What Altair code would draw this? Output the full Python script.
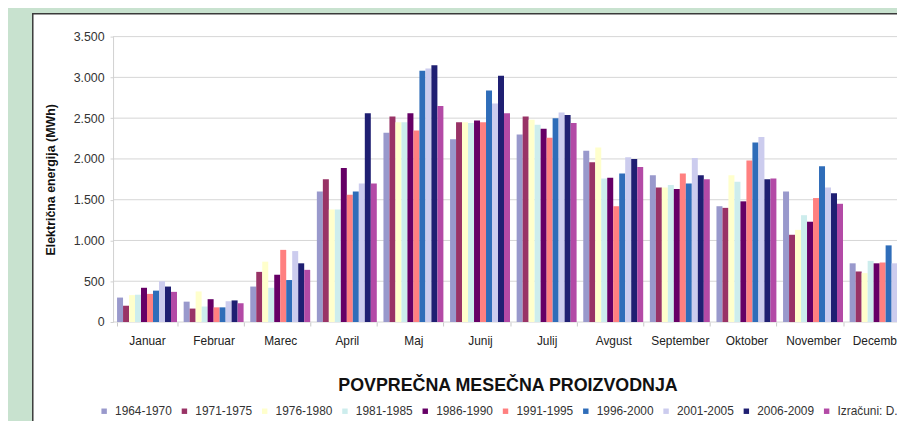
import altair as alt
import pandas as pd

months = ["Januar", "Februar", "Marec", "April", "Maj", "Junij", "Julij",
          "Avgust", "September", "Oktober", "November", "December"]
series = ["1964-1970", "1971-1975", "1976-1980", "1981-1985", "1986-1990",
          "1991-1995", "1996-2000", "2001-2005", "2006-2009", "Izračuni: D.Pavlin"]
colors = ["#9999CC", "#993366", "#FFFFCC", "#CDEDED", "#660066",
          "#FF8080", "#2F6DB9", "#CCCCEE", "#1F1F72", "#B34AA6"]

s1964 = [300, 250, 435, 1600, 2320, 2240, 2300, 2100, 1800, 1420, 1600, 720]
s1971 = [200, 165, 615, 1750, 2520, 2450, 2520, 1960, 1650, 1400, 1070, 620]
s1976 = [330, 375, 740, 1380, 2450, 2450, 2480, 2140, 1650, 1800, 1130, 600]
s1981 = [335, 190, 420, 1380, 2450, 2440, 2420, 1760, 1680, 1720, 1310, 750]
s1986 = [420, 280, 580, 1890, 2560, 2470, 2370, 1770, 1630, 1480, 1230, 720]
s1991 = [345, 180, 885, 1560, 2350, 2450, 2260, 1420, 1820, 1980, 1520, 730]
s1996 = [385, 180, 515, 1600, 3080, 2840, 2500, 1820, 1700, 2200, 1910, 940]
s2001 = [500, 255, 870, 1700, 3110, 2680, 2570, 2020, 2010, 2270, 1650, 720]
s2006 = [435, 265, 720, 2560, 3150, 3020, 2540, 2000, 1800, 1750, 1580, 1110]
sIzr = [370, 230, 640, 1700, 2650, 2560, 2440, 1900, 1750, 1760, 1450, 800]

y_ticks = [0, 500, 1000, 1500, 2000, 2500, 3000, 3500]

all_vals = [s1964, s1971, s1976, s1981, s1986, s1991, s1996, s2001, s2006, sIzr]
rows = []
for s, vals in zip(series, all_vals):
    for m, v in zip(months, vals):
        rows.append({"Mesec": m, "Obdobje": s, "MWh": v})
df = pd.DataFrame(rows)

W, H = 791, 288
STEP = 67.2
P_IN, P_OUT = 0.1, 0.06
x_range = [0, STEP * (len(months) - P_IN + 2 * P_OUT)]
FONT = "Liberation Sans"

yscale = alt.Scale(domain=[0, 3500], nice=False, zero=True)

y_axis = alt.Axis(
    values=y_ticks,
    labelExpr="replace(format(datum.value, ','), ',', '.')",
    title="Električna energija (MWh)",
    titleFont=FONT, titleFontSize=12.5, titleFontWeight="bold",
    titleColor="#111111", titleAngle=270, titleX=-63, titleY=144,
    titleAlign="center", titleBaseline="middle",
    labelFont=FONT, labelFontSize=12.5, labelColor="#333333",
    labelPadding=6, tickSize=3, tickColor="#d0d0d0",
    domain=True, domainColor="#d0d0d0", grid=False, zindex=1,
)

panel = alt.Chart(alt.Data(values=[{"p": 1}])).mark_rect(
    fill="white", stroke="#3a3a3a", strokeWidth=1.5
).encode(
    x=alt.value(-81), x2=alt.value(W + 100),
    y=alt.value(-23), y2=alt.value(H + 200),
)

grid = alt.Chart(pd.DataFrame({"MWh": y_ticks})).mark_rule(
    color="#d6d6d6", strokeWidth=1
).encode(
    y=alt.Y("MWh:Q", scale=yscale, axis=y_axis)
)

bars = alt.Chart(df).mark_bar().encode(
    x=alt.X(
        "Mesec:N", sort=months,
        scale=alt.Scale(range=x_range, paddingInner=P_IN, paddingOuter=P_OUT),
        axis=alt.Axis(
            title="POVPREČNA MESEČNA PROIZVODNJA",
            titleFont=FONT, titleFontSize=18, titleFontWeight="bold",
            titleColor="#111111", titleX=398, titleY=64,
            titleAlign="center", titleBaseline="middle",
            labelAngle=0, labelFont=FONT, labelFontSize=12,
            labelColor="#222222", labelPadding=10,
            domain=False, ticks=True, tickBand="extent", tickSize=4,
            tickColor="#c8c8c8", grid=False, zindex=1,
        ),
    ),
    xOffset=alt.XOffset("Obdobje:N", sort=series,
                        scale=alt.Scale(paddingInner=0, paddingOuter=0)),
    y=alt.Y("MWh:Q", scale=yscale, axis=y_axis),
    color=alt.Color(
        "Obdobje:N", sort=series,
        scale=alt.Scale(domain=series, range=colors),
        legend=alt.Legend(
            orient="none", legendX=-15, legendY=372,
            direction="horizontal", columns=10, title=None,
            symbolType="square", symbolSize=30, symbolStrokeWidth=0,
            labelFont=FONT, labelFontSize=12, labelColor="#333333",
            labelOffset=5, columnPadding=6, labelLimit=300,
            padding=0, rowPadding=0, zindex=1,
        ),
    ),
)

chart = alt.layer(panel, grid, bars).properties(
    width=W, height=H,
    autosize=alt.AutoSizeParams(type="none"),
    padding={"left": 106, "top": 27, "right": 0, "bottom": 98},
    background="#c8e2cf",
).configure_view(stroke=None).configure(font=FONT)

chart.save("out.html", embed_options={"renderer": "svg", "actions": False})
